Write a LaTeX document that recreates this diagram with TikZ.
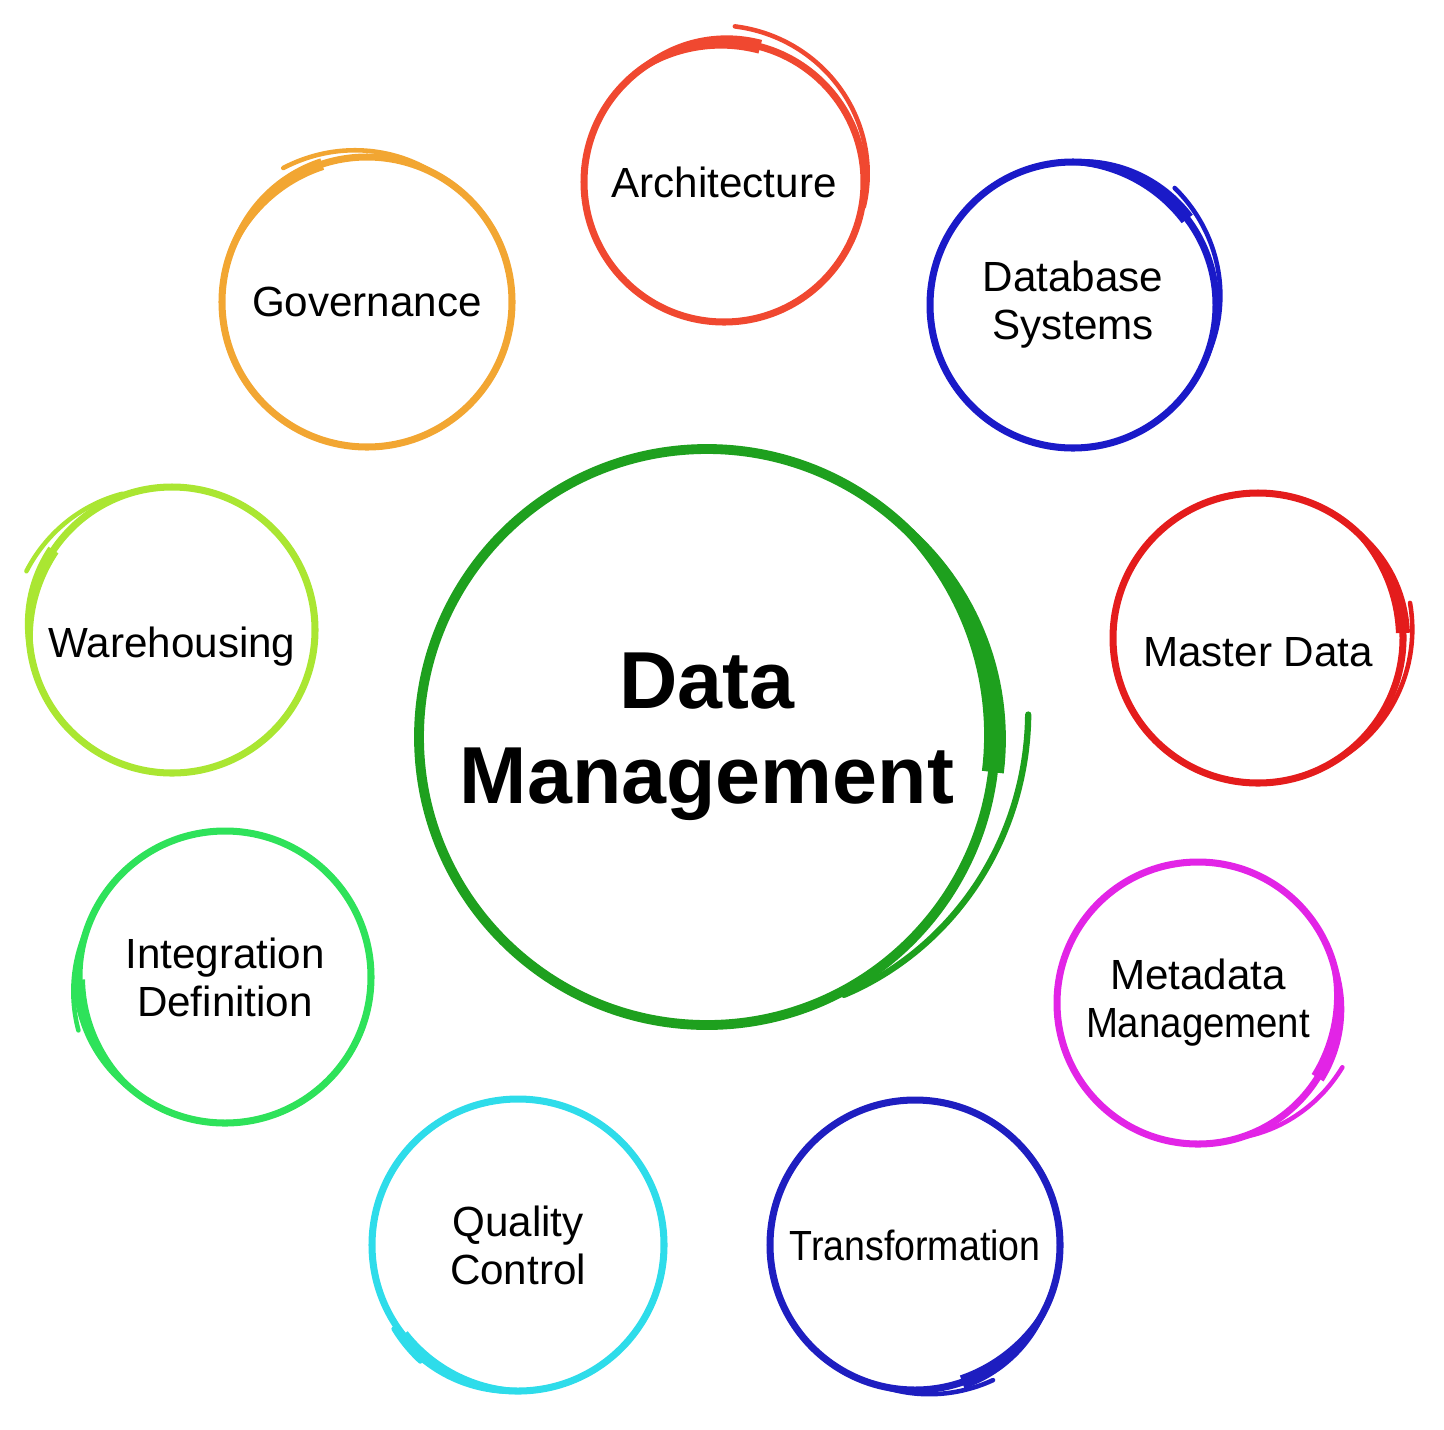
\documentclass[tikz,border=0pt]{standalone}
\usepackage{fontspec}
\setmainfont{Liberation Sans}

\definecolor{archred}{RGB}{240,72,48}
\definecolor{dbblue}{RGB}{26,26,200}
\definecolor{mdred}{RGB}{228,28,28}
\definecolor{metapink}{RGB}{226,36,230}
\definecolor{trblue}{RGB}{30,30,192}
\definecolor{qccyan}{RGB}{46,220,234}
\definecolor{intgreen}{RGB}{46,226,90}
\definecolor{whlime}{RGB}{170,230,50}
\definecolor{govorange}{RGB}{242,166,50}
\definecolor{hubgreen}{RGB}{30,160,30}

\tikzset{
topic/.style={circle, draw, line width=2pt, inner sep=0pt, align=center, font=\fontsize{12}{13.7}\selectfont}, % one small ring
hub/.style={circle, draw, line width=2.8pt, inner sep=0pt, align=center, font=\fontsize{23}{27}\selectfont\bfseries}, % the big ring in the middle
pentail/.style={line width=1.3pt, line cap=round}, % thin end of the pen stroke
}

% blunt start of the pen stroke: thick at angle #3, thinning out to angle #4
\newcommand{\penstart}[6][]{\fill[#1, shift={(#2.center)}, variable=\t, samples=40] plot[domain=#3:#4] (\t:{#5+#6*(1-(((\t)-(#3))/((#4)-(#3)))^2)}) -- plot[domain=#4:#3] (\t:{#5-#6*(1-(((\t)-(#3))/((#4)-(#3)))^2)}) -- cycle;}
% free end of the pen stroke, from angle #3 (radius #5) to angle #4 (radius #6)
\newcommand{\penend}[6][]{\draw[pentail, #1, shift={(#2.center)}, variable=\t, samples=30, smooth] plot[domain=#3:#4] (\t:{#5+(#6-#5)*((\t)-(#3))/((#4)-(#3))});}

\begin{document}
\begin{tikzpicture}
\useasboundingbox (0,0) rectangle (14.44,-14.29);

\node[hub, draw=hubgreen, minimum size=5.76cm] (dm) at (7.07,-7.37) {Data\\Management};

\node[topic, draw=archred, minimum size=2.80cm] (arch) at (7.24,-1.82) {Architecture};
\node[topic, draw=dbblue, minimum size=2.86cm] (db) at (10.73,-3.05) {Database\\Systems};
\node[topic, draw=mdred, minimum size=2.90cm] (md) at (12.58,-6.38) {\raisebox{-0.28cm}[0pt][0pt]{Master Data}};
\node[topic, draw=metapink, minimum size=2.82cm] (meta) at (11.98,-10.03) {Metadata\\\scalebox{0.91}[1]{Management}};
\node[topic, draw=trblue, minimum size=2.90cm] (tr) at (9.15,-12.45) {\scalebox{0.89}[1]{Transformation}};
\node[topic, draw=qccyan, minimum size=2.92cm] (qc) at (5.18,-12.45) {Quality\\Control};
\node[topic, draw=intgreen, minimum size=2.92cm] (int) at (2.25,-9.77) {Integration\\Definition};
\node[topic, draw=whlime, minimum size=2.86cm] (wh) at (1.72,-6.30) {\raisebox{-0.27cm}[0pt][0pt]{Warehousing}};
\node[topic, draw=govorange, minimum size=2.90cm] (gov) at (3.67,-3.02) {Governance};

% pen strokes: blunt start and free end of every ring
\penstart[hubgreen]{dm}{-7}{62}{2.88}{0.11}
\penend[hubgreen, line width=1.8pt]{dm}{4}{-62}{3.22}{2.92}

\penstart[archred]{arch}{75}{140}{1.40}{0.07}
\penend[archred]{arch}{86}{-10}{1.56}{1.42}

\penstart[dbblue]{db}{37}{105}{1.43}{0.07}
\penend[dbblue]{db}{49}{-25}{1.55}{1.43}

\penstart[mdred]{md}{2}{60}{1.45}{0.07}
\penend[mdred]{md}{13}{-60}{1.56}{1.45}

\penstart[metapink]{meta}{-32}{30}{1.41}{0.07}
\penend[metapink]{meta}{-24}{-70}{1.58}{1.42}

\penstart[trblue]{tr}{-71}{-15}{1.45}{0.07}
\penend[trblue]{tr}{-60}{-100}{1.56}{1.46}

\penstart[qccyan]{qc}{218}{290}{1.46}{0.06}
\penend[qccyan]{qc}{214}{230}{1.50}{1.52}

\penstart[intgreen]{int}{181}{250}{1.46}{0.06}
\penend[intgreen]{int}{200}{160}{1.56}{1.46}

\penstart[whlime]{wh}{146}{205}{1.43}{0.06}
\penend[whlime]{wh}{158}{110}{1.57}{1.45}

\penstart[govorange]{gov}{108}{175}{1.45}{0.06}
\penend[govorange]{gov}{122}{65}{1.58}{1.46}
\end{tikzpicture}
\end{document}
